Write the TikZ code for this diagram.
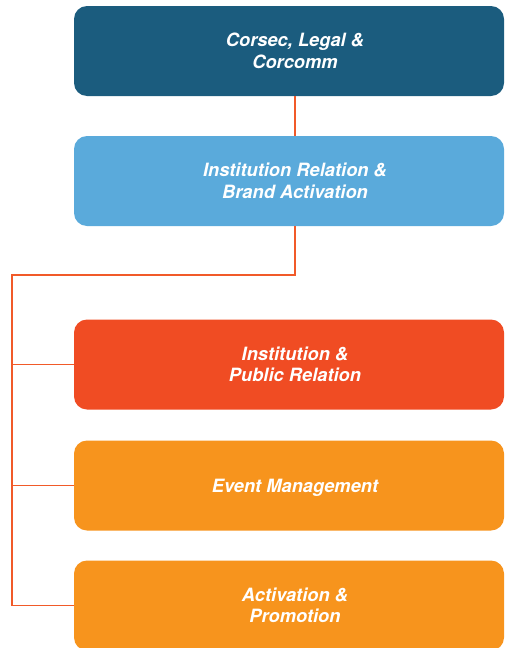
\documentclass[tikz,border=0pt]{standalone}
\usepackage{fontspec}
\setmainfont{TeX Gyre Heros}
\usepackage{tikz}
\usetikzlibrary{positioning,calc}
\definecolor{corsecblue}{HTML}{1B5C7E}
\definecolor{relblue}{HTML}{5AAADB}
\definecolor{instred}{HTML}{F04C23}
\definecolor{evorange}{HTML}{F7941D}
\definecolor{linkred}{HTML}{F15A29}

\begin{document}
\begin{tikzpicture}[x=1pt,y=1pt,
  unit/.style={rectangle, rounded corners=13pt, minimum width=430pt, minimum height=90pt, inner sep=0pt},
  lbl/.style={text=white, align=center, font=\fontsize{18.3}{21.5}\selectfont\bfseries\itshape},
  link/.style={draw=linkred, line width=1.8pt}]

\clip (0,0) rectangle (505,-648);

\node[unit, fill=corsecblue] (corsec)  at (289, -51)   {};
\node[unit, fill=relblue]    (instrel) at (289,-181)   {};
\node[unit, fill=instred]    (instpub) at (289,-364.5) {};
\node[unit, fill=evorange]   (event)   at (289,-485.5) {};
\node[unit, fill=evorange]   (activ)   at (289,-605.5) {};

\node[lbl] (corsectxt)  at ([xshift=6pt]corsec.center)  {Corsec, Legal \&\\Corcomm};
\node[lbl] (instreltxt) at ([xshift=6pt]instrel.center) {Institution Relation \&\\Brand Activation};
\node[lbl] (instpubtxt) at ([xshift=6pt]instpub.center) {Institution \&\\Public Relation};
\node[lbl] (eventtxt)   at ([xshift=6pt,yshift=-2pt]event.center) {Event Management};
\node[lbl] (activtxt)   at ([xshift=6pt]activ.center)   {Activation \&\\Promotion};

\coordinate (bend) at (12,-275);

\draw[link] ([xshift=6pt]corsec.south) -- ([xshift=6pt]instrel.north);
\draw[link] ([xshift=6pt]instrel.south) |- (bend) |- (activ.west);
\draw[link] (bend |- instpub.west) -- (instpub.west);
\draw[link] (bend |- event.west) -- (event.west);

\end{tikzpicture}
\end{document}
